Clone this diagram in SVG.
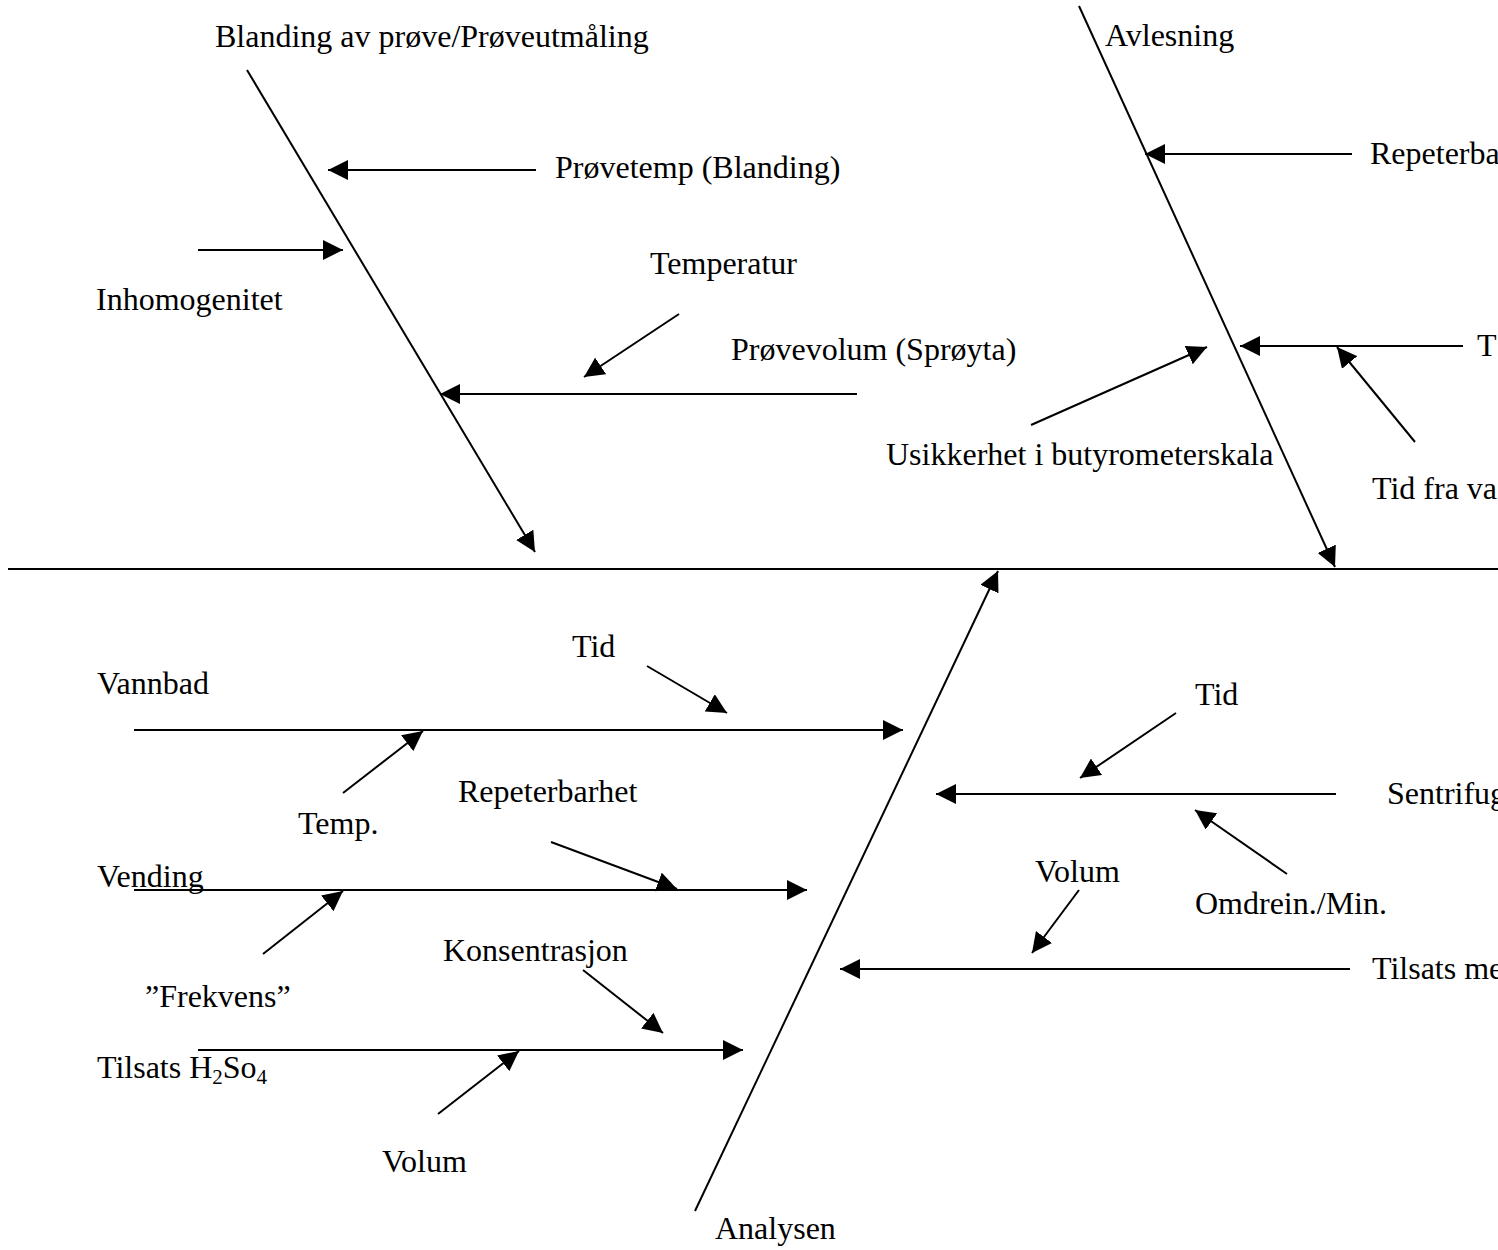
<svg xmlns="http://www.w3.org/2000/svg" width="1498" height="1250" viewBox="0 0 1498 1250">
<style>
text{font-family:"Liberation Serif","Times New Roman",serif;font-size:32px;fill:#000}
.ln{stroke:#000;stroke-width:2;fill:none}
.ar{stroke:#000;stroke-width:2;fill:none;marker-end:url(#ah)}
.sub{font-size:21px}
</style>
<defs>
<marker id="ah" markerUnits="userSpaceOnUse" viewBox="0 0 20 20" markerWidth="20" markerHeight="20" refX="20" refY="10" orient="auto">
<path d="M0,0 L20,10 L0,20 Z" fill="#000"/>
</marker>
</defs>
<rect width="1498" height="1250" fill="#fff"/>
<g id="connectors">
<line class="ln" x1="8" y1="569" x2="1498" y2="569"/>
<line class="ar" x1="247" y1="70" x2="535" y2="552"/>
<line class="ar" x1="536" y1="170" x2="328" y2="170"/>
<line class="ar" x1="198" y1="250" x2="343" y2="250"/>
<line class="ar" x1="857" y1="394" x2="440" y2="394"/>
<line class="ar" x1="679" y1="314" x2="584" y2="377"/>
<line class="ar" x1="1079" y1="6" x2="1335" y2="567"/>
<line class="ar" x1="1352" y1="154" x2="1145" y2="154"/>
<line class="ar" x1="1463" y1="346" x2="1240" y2="346"/>
<line class="ar" x1="1415" y1="442" x2="1337" y2="347"/>
<line class="ar" x1="1031" y1="425" x2="1207" y2="347"/>
<line class="ar" x1="695" y1="1211" x2="998" y2="571"/>
<line class="ar" x1="134" y1="730" x2="903" y2="730"/>
<line class="ar" x1="647" y1="666" x2="727" y2="713"/>
<line class="ar" x1="343" y1="793" x2="423" y2="731"/>
<line class="ar" x1="134" y1="890" x2="807" y2="890"/>
<line class="ar" x1="551" y1="842" x2="677" y2="889"/>
<line class="ar" x1="263" y1="954" x2="343" y2="891"/>
<line class="ar" x1="198" y1="1050" x2="743" y2="1050"/>
<line class="ar" x1="583" y1="970" x2="663" y2="1033"/>
<line class="ar" x1="438" y1="1114" x2="519" y2="1051"/>
<line class="ar" x1="1336" y1="794" x2="936" y2="794"/>
<line class="ar" x1="1176" y1="713" x2="1080" y2="778"/>
<line class="ar" x1="1287" y1="874" x2="1195" y2="810"/>
<line class="ar" x1="1350" y1="969" x2="840" y2="969"/>
<line class="ar" x1="1079" y1="890" x2="1032" y2="953"/>
</g>
<g id="n-blanding"><text x="215" y="47">Blanding av prøve/Prøveutmåling</text></g>
<g id="n-avlesning"><text x="1105" y="46">Avlesning</text></g>
<g id="n-repeterba"><text x="1370" y="164">Repeterba</text></g>
<g id="n-provetemp"><text x="555" y="178">Prøvetemp (Blanding)</text></g>
<g id="n-temperatur"><text x="650" y="274">Temperatur</text></g>
<g id="n-inhomogenitet"><text x="96" y="310">Inhomogenitet</text></g>
<g id="n-provevolum"><text x="731" y="360">Prøvevolum (Sprøyta)</text></g>
<g id="n-t"><text x="1477" y="356">T</text></g>
<g id="n-usikkerhet"><text x="886" y="465">Usikkerhet i butyrometerskala</text></g>
<g id="n-tidfra"><text x="1372" y="499">Tid fra va</text></g>
<g id="n-tid1"><text x="572" y="657">Tid</text></g>
<g id="n-vannbad"><text x="97" y="694">Vannbad</text></g>
<g id="n-tid2"><text x="1195" y="705">Tid</text></g>
<g id="n-sentrifug"><text x="1387" y="804">Sentrifug</text></g>
<g id="n-repeterbarhet"><text x="458" y="802">Repeterbarhet</text></g>
<g id="n-temp"><text x="298" y="834">Temp.</text></g>
<g id="n-vending"><text x="97" y="887">Vending</text></g>
<g id="n-volum2"><text x="1035" y="882">Volum</text></g>
<g id="n-omdrein"><text x="1195" y="914">Omdrein./Min.</text></g>
<g id="n-konsentrasjon"><text x="443" y="961">Konsentrasjon</text></g>
<g id="n-tilsatsme"><text x="1372" y="979">Tilsats me</text></g>
<g id="n-frekvens"><text x="145" y="1007">”Frekvens”</text></g>
<g id="n-tilsatsh2so4"><text x="97" y="1078">Tilsats H<tspan class="sub" dy="6">2</tspan><tspan dy="-6">So</tspan><tspan class="sub" dy="6">4</tspan></text></g>
<g id="n-volum1"><text x="382" y="1172">Volum</text></g>
<g id="n-analysen"><text x="715" y="1239">Analysen</text></g>
</svg>
